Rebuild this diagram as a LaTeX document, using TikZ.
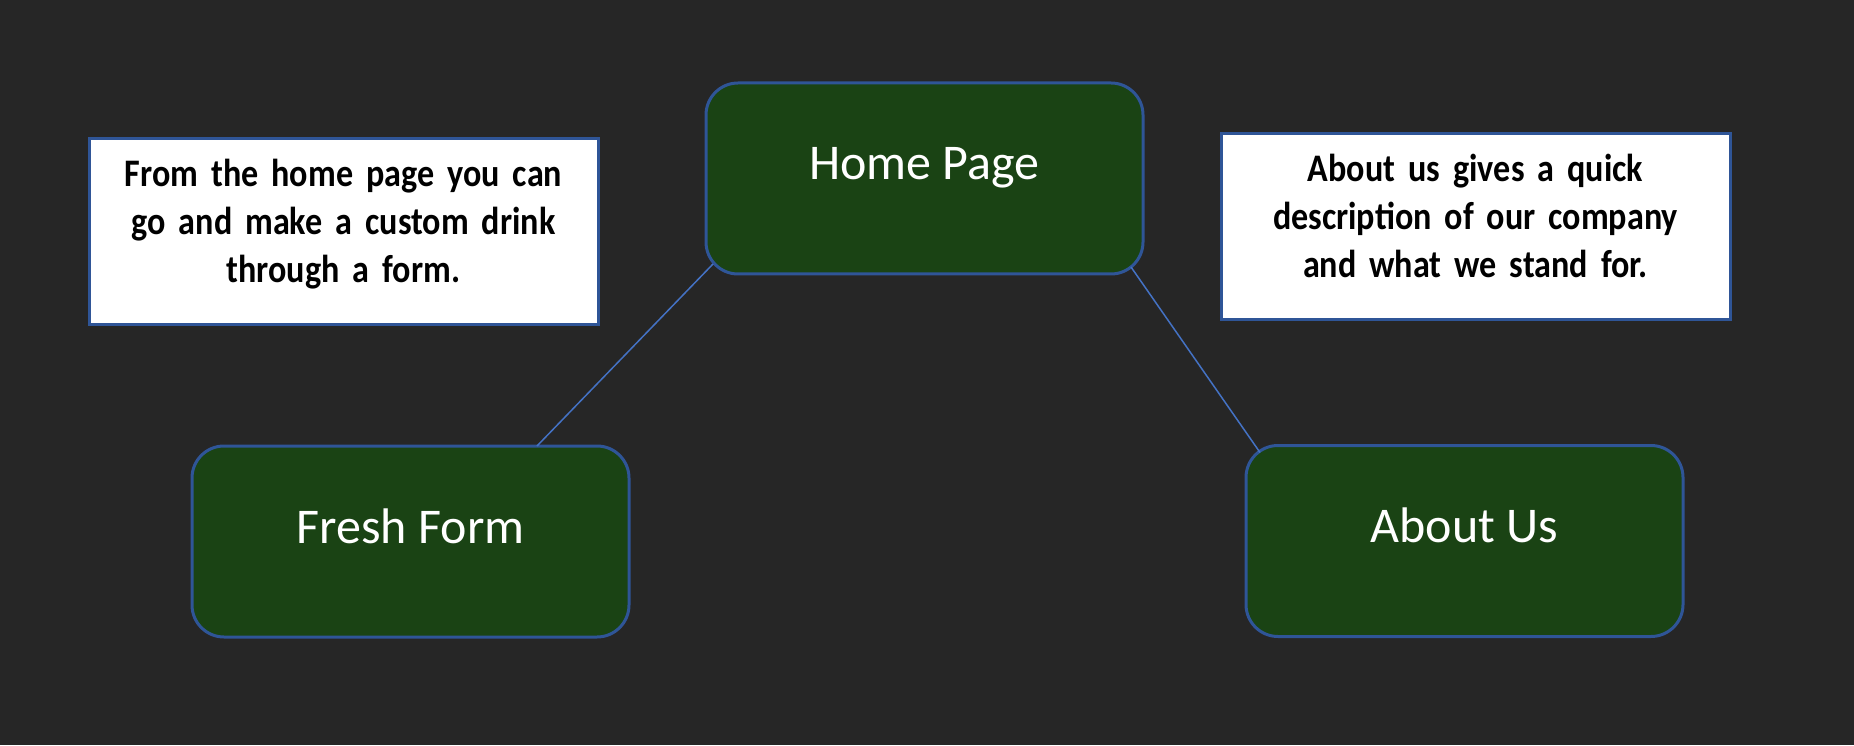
\documentclass[tikz,border=0pt]{standalone}
\usepackage{fontspec}
\setmainfont{Carlito}
\newfontfamily\notefont[FakeStretch=0.875, WordSpace=0.5]{Carlito}
\usepackage{tikz}

\definecolor{bgdark}{HTML}{262626}
\definecolor{pagegreen}{HTML}{1A4314}
\definecolor{edgeblue}{HTML}{2F5597}
\definecolor{linkblue}{HTML}{4472C4}

\begin{document}
\begin{tikzpicture}[x=1pt, y=1pt,
    page/.style={draw=edgeblue, line width=3pt, fill=pagegreen, rounded corners=32pt,
        minimum width=437pt, inner sep=0pt, outer sep=0pt, text height=97pt, text depth=94pt,
        text=white, font=\fontsize{50}{60}\selectfont},
    note/.style={draw=edgeblue, line width=3pt, fill=white, minimum width=509pt,
        inner sep=0pt, outer sep=0pt, text width=505pt, align=center, text height=48pt, text depth=138pt,
        font=\notefont\bfseries\fontsize{39}{48}\selectfont},
    link/.style={draw=linkblue, line width=1.5pt}]
    	% Background and nodes:
    	\fill[bgdark] (0, 0) rectangle (1854, 745);
    	\node[page] (home) at (924.5, 566.5){Home Page};
    	\node[page] (fresh) at (410.5, 203.5){Fresh Form};
    	\node[page] (about) at (1464.5, 204){About Us};
    	\node[note] (formnote) at (343.5, 513){From the home page you can\\go and make a custom drink\\through a form.};
    	\node[note] (aboutnote) at (1475.5, 518){About us gives a quick\\description of our company\\and what we stand for.};
    	% Links:
    	\draw[link] ([shift={(7,10)}]home.south west) -- ([shift={(345,0)}]fresh.north west);
    	\draw[link] ([shift={(-12,7)}]home.south east) -- ([shift={(14,-7)}]about.north west);
    \end{tikzpicture}
\end{document}
